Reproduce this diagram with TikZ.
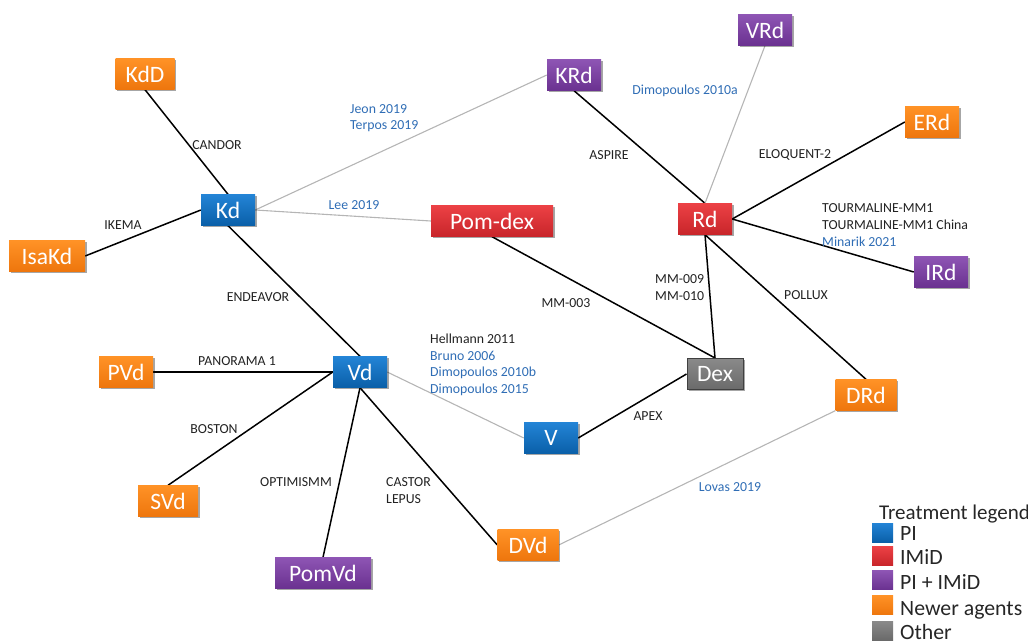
\documentclass[tikz,border=0pt]{standalone}
\usepackage{fontspec}
\setmainfont{Carlito}
\usetikzlibrary{shadows,backgrounds}
\definecolor{bluetop}{HTML}{2384D6}
\definecolor{bluebot}{HTML}{0A5FA8}
\definecolor{redtop}{HTML}{EC4145}
\definecolor{redbot}{HTML}{C8252A}
\definecolor{purtop}{HTML}{8E55B4}
\definecolor{purbot}{HTML}{6A3190}
\definecolor{orgtop}{HTML}{FF9226}
\definecolor{orgbot}{HTML}{EE760D}
\definecolor{graytop}{HTML}{8A8A8A}
\definecolor{graybot}{HTML}{6A6A6A}
\definecolor{reftext}{HTML}{2F6DB5}
\definecolor{trialtext}{HTML}{222222}
\definecolor{greyline}{HTML}{B5B5B5}
\tikzset{
  box/.style={rectangle, inner sep=0pt, minimum height=31pt, text=white,
    font=\fontsize{23.5}{23.5}\selectfont,
    drop shadow={shadow xshift=1.5pt, shadow yshift=-1.5pt, opacity=0.35, fill=black}},
  pibox/.style={box, top color=bluetop, bottom color=bluebot},
  imbox/.style={box, top color=redtop, bottom color=redbot},
  pubox/.style={box, top color=purtop, bottom color=purbot},
  orbox/.style={box, top color=orgtop, bottom color=orgbot},
  otbox/.style={box, top color=graytop, bottom color=graybot, draw=black!75, line width=1pt},
  trial/.style={black, line width=1.5pt},
  refl/.style={greyline, line width=1.1pt},
  tlab/.style={text=trialtext, font=\fontsize{13.8}{17}\selectfont, inner sep=0pt},
  rlab/.style={text=reftext, font=\fontsize{13.8}{17}\selectfont, inner sep=0pt},
  legsq/.style={rectangle, inner sep=0pt, minimum width=21pt, minimum height=19pt},
  legtxt/.style={anchor=base west, inner sep=0pt, text=black!85, font=\fontsize{21.8}{22}\selectfont}
}
\begin{document}
\begin{tikzpicture}[x=1pt, y=-1pt]
\useasboundingbox (0,0) rectangle (1028,642);

% nodes
\node[orbox, minimum width=59pt] (KdD) at (145,74) {KdD};
\node[pibox, minimum width=54pt] (Kd) at (228,210) {Kd};
\node[orbox, minimum width=76pt] (IsaKd) at (47,256) {IsaKd};
\node[pubox, minimum width=54pt] (KRd) at (574,75) {KRd};
\node[imbox, minimum width=122pt] (Pomdex) at (492,221) {Pom-dex};
\node[pubox, minimum width=54pt] (VRd) at (765,30) {VRd};
\node[orbox, minimum width=54pt] (ERd) at (932,122) {ERd};
\node[imbox, minimum width=54pt] (Rd) at (705,219) {Rd};
\node[pubox, minimum width=54pt] (IRd) at (941,272) {IRd};
\node[orbox, minimum width=54pt] (PVd) at (126,372) {PVd};
\node[pibox, minimum width=54pt] (Vd) at (360,372) {Vd};
\node[orbox, minimum width=60pt] (SVd) at (168,501) {SVd};
\node[pubox, minimum width=96pt] (PomVd) at (323,573) {PomVd};
\node[pibox, minimum width=54pt] (V) at (551,438) {V};
\node[orbox, minimum width=61pt] (DVd) at (528,545) {DVd};
\node[otbox, minimum width=56pt] (Dex) at (715,374) {Dex};
\node[orbox, minimum width=61pt] (DRd) at (866,395) {DRd};

% edges
\begin{scope}[on background layer]
\draw[trial] (KdD.south) -- (Kd.north);
\draw[trial] (IsaKd.east) -- (Kd.west);
\draw[trial] (Kd.south) -- (Vd.north);
\draw[refl] (Kd.east) -- (KRd.west);
\draw[refl] (Kd.east) -- (Pomdex.west);
\draw[trial] (KRd.south) -- (Rd.north);
\draw[refl] (Rd.north) -- (VRd.south);
\draw[trial] (Rd.east) -- (ERd.west);
\draw[trial] (Rd.east) -- (IRd.west);
\draw[trial] (Rd.south) -- (Dex.north);
\draw[trial] (Rd.south) -- (DRd.north);
\draw[trial] (Pomdex.south) -- (Dex.north);
\draw[trial] (V.east) -- (Dex.west);
\draw[refl] (Vd.east) -- (V.west);
\draw[trial] (Vd.south) -- (DVd.west);
\draw[refl] (DVd.east) -- (DRd.south west);
\draw[trial] (PVd.east) -- (Vd.west);
\draw[trial] (Vd.west) -- (SVd.north);
\draw[trial] (Vd.south) -- (PomVd.north);
\end{scope}

% labels
\node[tlab] (lCandor) at (217,145) {CANDOR};
\node[tlab] (lIkema) at (123,225) {IKEMA};
\node[tlab] (lEndeavor) at (258,297) {ENDEAVOR};
\node[rlab, anchor=west] (lJeon) at (350,109) {Jeon 2019};
\node[rlab, anchor=west] (lTerpos) at (350,126) {Terpos 2019};
\node[rlab] (lLee) at (354,205) {Lee 2019};
\node[tlab] (lAspire) at (609,155) {ASPIRE};
\node[rlab] (lDimo10a) at (685,91) {Dimopoulos 2010a};
\node[tlab] (lEloq) at (795,155) {ELOQUENT-2};
\node[tlab, anchor=west] (lTour1) at (822,208) {TOURMALINE-MM1};
\node[tlab, anchor=west] (lTour2) at (822,225) {TOURMALINE-MM1 China};
\node[rlab, anchor=west] (lMinarik) at (822,242) {Minarik 2021};
\node[tlab, anchor=west] (lMM9) at (655,279) {MM-009};
\node[tlab, anchor=west] (lMM10) at (655,296) {MM-010};
\node[tlab] (lPollux) at (806,295) {POLLUX};
\node[tlab] (lMM3) at (566,303) {MM-003};
\node[tlab, anchor=west] (lHell) at (430,339) {Hellmann 2011};
\node[rlab, anchor=west] (lBruno) at (430,356) {Bruno 2006};
\node[rlab, anchor=west] (lDimo10b) at (430,373) {Dimopoulos 2010b};
\node[rlab, anchor=west] (lDimo15) at (430,390) {Dimopoulos 2015};
\node[tlab] (lApex) at (648,416) {APEX};
\node[tlab, anchor=west] (lCastor) at (386,482) {CASTOR};
\node[tlab, anchor=west] (lLepus) at (386,499) {LEPUS};
\node[rlab] (lLovas) at (730,487) {Lovas 2019};
\node[tlab] (lPanorama) at (237,361) {PANORAMA 1};
\node[tlab] (lBoston) at (214,429) {BOSTON};
\node[tlab] (lOptim) at (296,482) {OPTIMISMM};

% legend
\node[anchor=base west, inner sep=0pt, text=black!85, font=\fontsize{21}{21}\selectfont] (legTitle) at (879,519) {Treatment legend};
\node[legsq, top color=bluetop, bottom color=bluebot] (sqPI) at (882.5,532.5) {};
\node[legsq, top color=redtop, bottom color=redbot] (sqIM) at (882.5,556) {};
\node[legsq, top color=purtop, bottom color=purbot] (sqPU) at (882.5,580) {};
\node[legsq, top color=orgtop, bottom color=orgbot] (sqOR) at (882.5,605) {};
\node[legsq, top color=graytop, bottom color=graybot] (sqOT) at (882.5,630.5) {};
\node[legtxt] (tPI) at (900,540) {PI};
\node[legtxt] (tIM) at (900,564) {IMiD};
\node[legtxt] (tPU) at (900,589) {PI + IMiD};
\node[legtxt] (tOR) at (900,615) {Newer agents};
\node[legtxt] (tOT) at (900,639) {Other};
\end{tikzpicture}
\end{document}
